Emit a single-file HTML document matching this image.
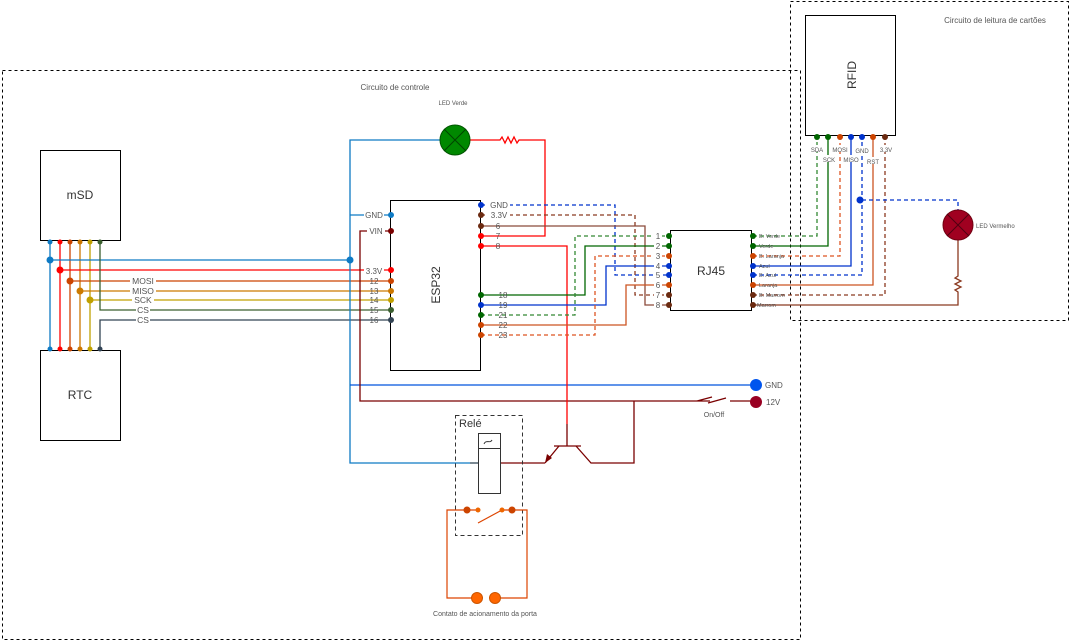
<!DOCTYPE html>
<html><head><meta charset="utf-8"><style>
html,body{margin:0;padding:0;background:#fff;}
svg{display:block;font-family:"Liberation Sans",sans-serif;}
text{fill:#555;}
</style></head><body>
<svg width="1071" height="642" viewBox="0 0 1071 642" xmlns="http://www.w3.org/2000/svg">
<!-- region boxes -->
<rect x="2.5" y="70.5" width="798" height="569" fill="none" stroke="#000" stroke-dasharray="3,3"/>
<rect x="790.5" y="1.5" width="278" height="319" fill="none" stroke="#000" stroke-dasharray="3,3"/>
<text x="395" y="90" font-size="8" text-anchor="middle">Circuito de controle</text>
<text x="995" y="23" font-size="8" text-anchor="middle">Circuito de leitura de cartões</text>

<!-- mSD / RTC buses -->
<g fill="none" stroke-width="1.3">
<path d="M50,241V349" stroke="#0e7ac4"/>
<path d="M60,241V349" stroke="#ff0000"/>
<path d="M70,241V349" stroke="#cc4400"/>
<path d="M80,241V349" stroke="#cc7a00"/>
<path d="M90,241V349" stroke="#c0a000"/>
<path d="M50,260H350" stroke="#0e7ac4"/>
<path d="M60,270H390" stroke="#ff0000"/>
<path d="M70,281H390" stroke="#cc4400"/>
<path d="M80,291H390" stroke="#cc7a00"/>
<path d="M90,300H390" stroke="#c0a000"/>
<path d="M100,241V310H390" stroke="#3a5f2f"/>
<path d="M100,349V320H390" stroke="#334455"/>
<!-- blue GND net -->
<path d="M440,140H350V463H478" stroke="#0e7ac4"/>
<path d="M350,215H390" stroke="#0e7ac4"/>
<path d="M350,385H756" stroke="#0055dd"/>
<!-- VIN dark red -->
<path d="M390,231H360V401H697" stroke="#7a0000"/>
<path d="M730,401H756" stroke="#7a0000"/>
<path d="M697,401L712,397M710,401H697" stroke="#7a0000"/>
<path d="M708,403L726,398" stroke="#7a0000"/>
<!-- LED verde to pin7 -->
<path d="M470,140H500l2,-3l3,6l3,-6l3,6l3,-6l3,6l2,-3H545V236H481" stroke="#ff0000"/>
<!-- pin 8 to transistor base -->
<path d="M481,246H567V424" stroke="#ff0000"/>
<path d="M567,424V446M554,446H581" stroke="#7a0000"/>
<path d="M559,446L545,463M576,446L591,463H634V401" stroke="#7a0000"/>
<path d="M501,463H545" stroke="#7a0000"/>
</g>
<path d="M545,463l2,-9l5,4z" fill="#7a0000"/>

<!-- ESP -> RJ45 -->
<g fill="none" stroke-width="1.3">
<path d="M481,205H615V275H668" stroke="#0033cc" stroke-dasharray="4,3"/>
<path d="M481,215H635V295H668" stroke="#8b3a20" stroke-dasharray="4,3"/>
<path d="M481,226H645V305H668" stroke="#8b4a3a"/>
<path d="M481,295H585V246H668" stroke="#006600"/>
<path d="M481,305H606V266H668" stroke="#0033cc"/>
<path d="M481,315H575V236H668" stroke="#338833" stroke-dasharray="4,3"/>
<path d="M481,325H626V285H668" stroke="#cc5522"/>
<path d="M481,335H595V256H668" stroke="#dd5522" stroke-dasharray="4,3"/>
<!-- RJ45 -> RFID -->
<path d="M753,236H817V137" stroke="#338833" stroke-dasharray="4,3"/>
<path d="M753,246H828V137" stroke="#006600"/>
<path d="M753,256H840V137" stroke="#dd5522" stroke-dasharray="4,3"/>
<path d="M753,266H851V137" stroke="#0033cc"/>
<path d="M753,275H862V137" stroke="#0033cc" stroke-dasharray="4,3"/>
<path d="M753,285H873V137" stroke="#cc5522"/>
<path d="M753,295H885V137" stroke="#8b3a20" stroke-dasharray="4,3"/>
<path d="M753,305H958V292l-3,-2l6,-3l-6,-3l6,-3l-6,-3l3,-2V240" stroke="#8b3a20"/>
<path d="M862,200H958V210" stroke="#0033cc" stroke-dasharray="4,3"/>
</g>
<circle cx="860" cy="200" r="3.5" fill="#0033cc"/>
<circle cx="958" cy="225" r="15" fill="#a00020" stroke="#700010"/>
<path d="M947,214L969,236M969,214L947,236" stroke="#500010"/>
<text x="976" y="228" font-size="6">LED Vermelho</text>

<!-- junction dots -->
<g>
<circle cx="50" cy="260" r="3.5" fill="#0e7ac4"/>
<circle cx="350" cy="260" r="3.5" fill="#0e7ac4"/>
<circle cx="60" cy="270" r="3.5" fill="#ff0000"/>
<circle cx="70" cy="281" r="3.5" fill="#cc4400"/>
<circle cx="80" cy="291" r="3.5" fill="#cc7a00"/>
<circle cx="90" cy="300" r="3.5" fill="#c0a000"/>
</g>
<!-- bus labels -->
<g font-size="8.5" text-anchor="middle">
<rect x="130" y="276" width="26" height="9" fill="#fff"/><text x="143" y="284">MOSI</text>
<rect x="130" y="286" width="26" height="9" fill="#fff"/><text x="143" y="294">MISO</text>
<rect x="132" y="296" width="22" height="9" fill="#fff"/><text x="143" y="303">SCK</text>
<rect x="136" y="306" width="14" height="9" fill="#fff"/><text x="143" y="313">CS</text>
<rect x="136" y="316" width="14" height="9" fill="#fff"/><text x="143" y="323">CS</text>
</g>

<!-- mSD / RTC boxes -->
<rect x="40.5" y="150.5" width="80" height="90" fill="#fff" stroke="#000"/>
<text x="80" y="199" font-size="12" text-anchor="middle" style="fill:#333">mSD</text>
<rect x="40.5" y="350.5" width="80" height="90" fill="#fff" stroke="#000"/>
<text x="80" y="399" font-size="12" text-anchor="middle" style="fill:#333">RTC</text>
<g>
<circle cx="50" cy="242" r="2.5" fill="#0e7ac4"/><circle cx="60" cy="242" r="2.5" fill="#f00"/><circle cx="70" cy="242" r="2.5" fill="#c40"/><circle cx="80" cy="242" r="2.5" fill="#c70"/><circle cx="90" cy="242" r="2.5" fill="#c0a000"/><circle cx="100" cy="242" r="2.5" fill="#3a5f2f"/>
<circle cx="50" cy="349" r="2.5" fill="#0e7ac4"/><circle cx="60" cy="349" r="2.5" fill="#f00"/><circle cx="70" cy="349" r="2.5" fill="#c40"/><circle cx="80" cy="349" r="2.5" fill="#c70"/><circle cx="90" cy="349" r="2.5" fill="#c0a000"/><circle cx="100" cy="349" r="2.5" fill="#334455"/>
</g>

<!-- ESP32 -->
<rect x="390.5" y="200.5" width="90" height="170" fill="#fff" stroke="#000"/>
<text transform="translate(440,285) rotate(-90)" font-size="12" text-anchor="middle" style="fill:#333">ESP32</text>
<g font-size="8" text-anchor="middle">
<rect x="364" y="210" width="20" height="9" fill="#fff"/><text x="374" y="218">GND</text>
<rect x="367" y="226" width="18" height="9" fill="#fff"/><text x="376" y="234">VIN</text>
<rect x="364" y="266" width="20" height="9" fill="#fff"/><text x="374" y="274">3.3V</text>
<text x="374" y="284">12</text><text x="374" y="294">13</text><text x="374" y="303">14</text><text x="374" y="313">15</text><text x="374" y="323">16</text>
<rect x="488" y="200" width="22" height="9" fill="#fff"/><text x="499" y="208">GND</text>
<rect x="488" y="210" width="22" height="9" fill="#fff"/><text x="499" y="218">3.3V</text>
<text x="498" y="229">6</text><text x="498" y="239">7</text><text x="498" y="249">8</text>
<text x="503" y="298">18</text><text x="503" y="308">19</text><text x="503" y="318">21</text><text x="503" y="328">22</text><text x="503" y="338">23</text>
</g>
<g>
<circle cx="391" cy="215" r="3" fill="#0e7ac4"/><circle cx="391" cy="231" r="3" fill="#7a0000"/>
<circle cx="391" cy="270" r="3" fill="#f00"/><circle cx="391" cy="281" r="3" fill="#c40"/><circle cx="391" cy="291" r="3" fill="#c70"/><circle cx="391" cy="300" r="3" fill="#c0a000"/><circle cx="391" cy="310" r="3" fill="#3a5f2f"/><circle cx="391" cy="320" r="3" fill="#334455"/>
<circle cx="481" cy="205" r="3" fill="#0033cc"/><circle cx="481" cy="215" r="3" fill="#6b2a10"/><circle cx="481" cy="226" r="3" fill="#6b2a10"/><circle cx="481" cy="236" r="3" fill="#f00"/><circle cx="481" cy="246" r="3" fill="#f00"/>
<circle cx="481" cy="295" r="3" fill="#006600"/><circle cx="481" cy="305" r="3" fill="#0033cc"/><circle cx="481" cy="315" r="3" fill="#006600"/><circle cx="481" cy="325" r="3" fill="#cc4400"/><circle cx="481" cy="335" r="3" fill="#cc4400"/>
</g>

<!-- LED verde -->
<circle cx="455" cy="140" r="15" fill="#008800" stroke="#005500"/>
<path d="M444,129L466,151M466,129L444,151" stroke="#004400"/>
<text x="453" y="105" font-size="6" text-anchor="middle">LED Verde</text>

<!-- RJ45 -->
<rect x="670.5" y="230.5" width="81" height="80" fill="#fff" stroke="#000"/>
<text x="711" y="275" font-size="12" text-anchor="middle" style="fill:#333">RJ45</text>
<g font-size="8" text-anchor="middle">
<rect x="654" y="231" width="8" height="9" fill="#fff"/><text x="658" y="239">1</text>
<rect x="654" y="241" width="8" height="9" fill="#fff"/><text x="658" y="249">2</text>
<rect x="654" y="251" width="8" height="9" fill="#fff"/><text x="658" y="259">3</text>
<rect x="654" y="261" width="8" height="9" fill="#fff"/><text x="658" y="269">4</text>
<rect x="654" y="270" width="8" height="9" fill="#fff"/><text x="658" y="278">5</text>
<rect x="654" y="280" width="8" height="9" fill="#fff"/><text x="658" y="288">6</text>
<rect x="654" y="290" width="8" height="9" fill="#fff"/><text x="658" y="298">7</text>
<rect x="654" y="300" width="8" height="9" fill="#fff"/><text x="658" y="308">8</text>
</g>
<g font-size="5.5">
<text x="759" y="238">B. Verde</text><text x="759" y="248">Verde</text><text x="759" y="258">B. Laranja</text><text x="759" y="268">Azul</text>
<text x="759" y="277">B. Azul</text><text x="759" y="287">Laranja</text><text x="759" y="297">B. Marrom</text><text x="757" y="307">Marrom</text>
</g>
<g>
<circle cx="669" cy="236" r="3" fill="#006600"/><circle cx="669" cy="246" r="3" fill="#006600"/><circle cx="669" cy="256" r="3" fill="#cc4400"/><circle cx="669" cy="266" r="3" fill="#0033cc"/><circle cx="669" cy="275" r="3" fill="#0033cc"/><circle cx="669" cy="285" r="3" fill="#cc4400"/><circle cx="669" cy="295" r="3" fill="#6b2a10"/><circle cx="669" cy="305" r="3" fill="#6b2a10"/>
<circle cx="753" cy="236" r="3" fill="#006600"/><circle cx="753" cy="246" r="3" fill="#006600"/><circle cx="753" cy="256" r="3" fill="#cc4400"/><circle cx="753" cy="266" r="3" fill="#0033cc"/><circle cx="753" cy="275" r="3" fill="#0033cc"/><circle cx="753" cy="285" r="3" fill="#cc4400"/><circle cx="753" cy="295" r="3" fill="#6b2a10"/><circle cx="753" cy="305" r="3" fill="#6b2a10"/>
</g>

<!-- RFID -->
<rect x="805.5" y="15.5" width="90" height="120" fill="#fff" stroke="#000"/>
<text transform="translate(856,75) rotate(-90)" font-size="12" text-anchor="middle" style="fill:#333">RFID</text>
<g>
<circle cx="817" cy="137" r="3" fill="#006600"/><circle cx="828" cy="137" r="3" fill="#006600"/><circle cx="840" cy="137" r="3" fill="#cc4400"/><circle cx="851" cy="137" r="3" fill="#0033cc"/><circle cx="862" cy="137" r="3" fill="#0033cc"/><circle cx="873" cy="137" r="3" fill="#cc4400"/><circle cx="885" cy="137" r="3" fill="#6b2a10"/>
</g>
<g font-size="6" text-anchor="middle">
<rect x="810" y="145" width="14" height="7" fill="#fff"/><text x="817" y="152">SDA</text>
<rect x="821" y="155" width="14" height="7" fill="#fff"/><text x="829" y="162">SCK</text>
<rect x="832" y="145" width="16" height="7" fill="#fff"/><text x="840" y="152">MOSI</text>
<rect x="843" y="155" width="16" height="7" fill="#fff"/><text x="851" y="162">MISO</text>
<rect x="855" y="146" width="14" height="7" fill="#fff"/><text x="862" y="153">GND</text>
<rect x="866" y="157" width="14" height="7" fill="#fff"/><text x="873" y="164">RST</text>
<rect x="878" y="145" width="14" height="7" fill="#fff"/><text x="886" y="152">3.3V</text>
</g>

<!-- GND / 12V terminals -->
<circle cx="756" cy="385" r="6" fill="#0055ee"/>
<text x="765" y="388" font-size="8">GND</text>
<circle cx="756" cy="402" r="6" fill="#990022"/>
<text x="766" y="405" font-size="8">12V</text>
<text x="714" y="417" font-size="7" text-anchor="middle">On/Off</text>

<!-- Relé -->
<rect x="455.5" y="415.5" width="67" height="120" fill="none" stroke="#333" stroke-dasharray="4,3"/>
<text x="459" y="427" font-size="11" style="fill:#333">Relé</text>
<rect x="478.5" y="433.5" width="22" height="60" fill="#fff" stroke="#333"/>
<path d="M478.5,448.5H500.5" stroke="#333"/>
<path d="M484,444c2,-5 6,0 8,-4" stroke="#333" fill="none"/>
<path d="M470,463H478" stroke="#333"/>
<g stroke="#dd4400" fill="none" stroke-width="1.2">
<path d="M467,510H447V598H477M495,598H527V510H512"/>
<path d="M467,510H478M502,510H512M478,523L502,510"/>
</g>
<circle cx="467" cy="510" r="3.5" fill="#cc4400"/><circle cx="478" cy="510" r="2.5" fill="#ee6600"/>
<circle cx="502" cy="510" r="2.5" fill="#ee6600"/><circle cx="512" cy="510" r="3.5" fill="#cc4400"/>
<circle cx="477" cy="598" r="5.5" fill="#ff6600" stroke="#cc5500"/><circle cx="495" cy="598" r="5.5" fill="#ff6600" stroke="#cc5500"/>
<text x="485" y="616" font-size="7" text-anchor="middle">Contato de acionamento da porta</text>
</svg>
</body></html>
